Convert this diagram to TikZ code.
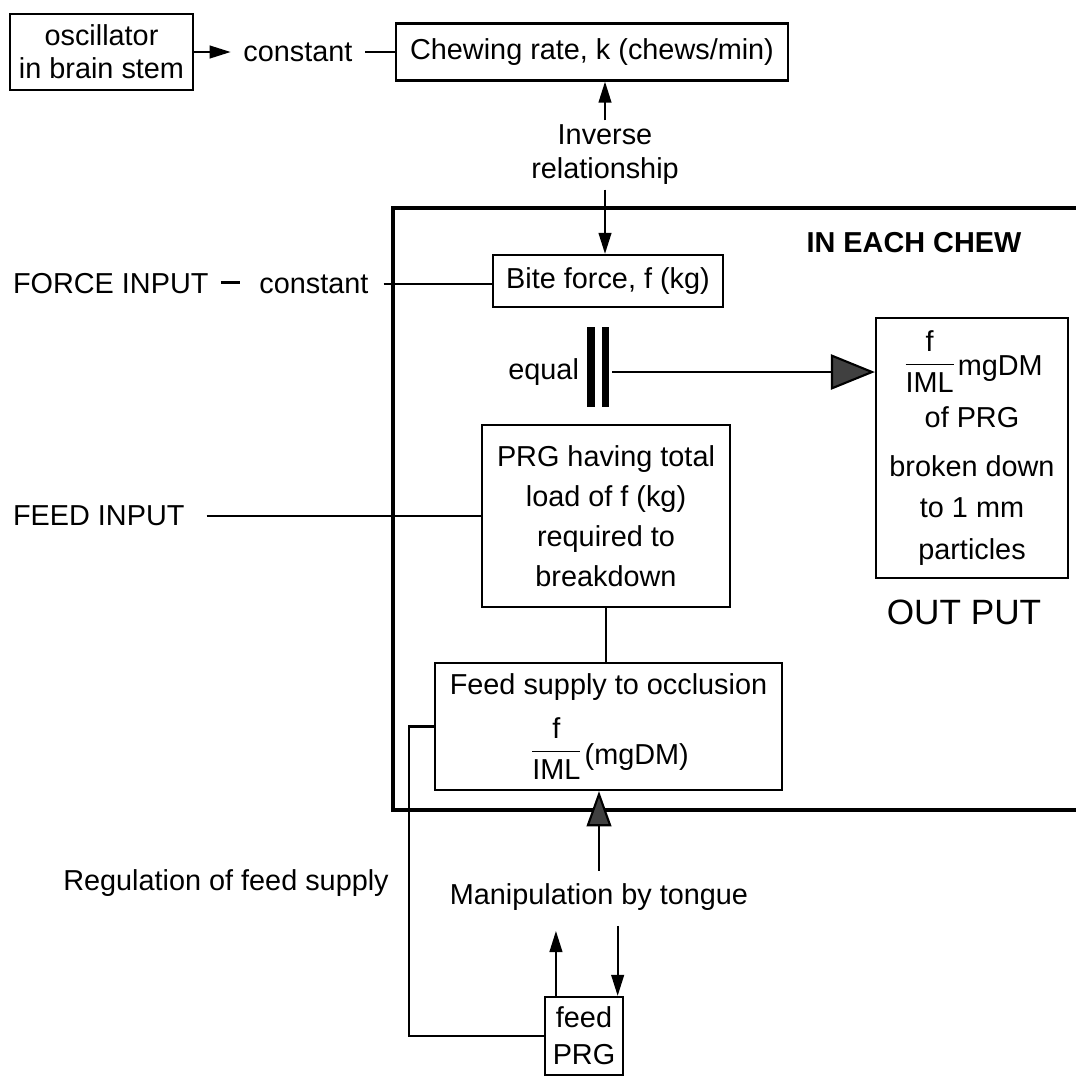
\documentclass[tikz,border=0pt]{standalone}
\usepackage{amsmath}
\usepackage{fontspec}
\setmainfont{Liberation Sans}
\usetikzlibrary{arrows.meta, calc, positioning}

\begin{document}
\begin{tikzpicture}[x=0.01cm, y=-0.01cm, line width=.6pt,
		font=\fontsize{8.2}{11}\selectfont,
		boxed/.style={draw, align=center, inner sep=0pt},
		arr/.style={-{Triangle[length=6pt, width=3.6pt]}},
		bigarr/.style={-{Triangle[length=12.5pt, width=10pt, fill=black!75]}},
		midarr/.style={-{Triangle[length=10pt, width=7pt, fill=black!75]}}]
		\useasboundingbox (0,0) rectangle (1076,1081);
		% top row
		\node[boxed, minimum width=1.83cm, minimum height=.76cm, font=\fontsize{8.2}{9.4}\selectfont] (osc) at (101.5,52) {oscillator\\in brain stem};
		\node (const1) at (298,52) {constant};
		\node[boxed, minimum width=3.92cm, minimum height=.57cm] (chew) at (592,52) {Chewing rate, k (chews/min)};
		\draw[arr] (osc) -- (const1);
		\draw (const1) -- (chew);
		\node[inner sep=1pt, align=center, font=\fontsize{8.2}{9.7}\selectfont] (inv) at (605,155) {Inverse\\relationship};
		\draw[arr] (inv.north) -- (inv.north |- chew.south);
		% the chew frame
		\draw[line width=1.3pt] (1100,208) -- (393,208) -- (393,810) -- (1100,810);
		\node[font=\fontsize{8.2}{11}\selectfont\bfseries] (each) at (914,243) {IN EACH CHEW};
		\node[boxed, minimum width=2.3cm, minimum height=.52cm] (bite) at (608,281) {Bite force, f (kg)};
		\draw[arr] (inv.south) -- (inv.south |- bite.north);
		\node[anchor=west, inner xsep=0pt] (force) at (12,284) {FORCE INPUT\hspace{3.5pt}\rule[2.7pt]{5.5pt}{0.9pt}\hspace{5.5pt}constant};
		\draw[shorten <=4pt] (force.east) -- (force.east -| bite.west);
		% equal
		\node[anchor=east, inner xsep=0pt] (equal) at (580,372) {equal};
		\fill (587,327) rectangle (595,407);
		\fill (602,327) rectangle (609,407);
		\coordinate (eqr) at (612,372);
		\node[boxed, minimum width=1.92cm, minimum height=2.6cm, font=\fontsize{8.2}{11.8}\selectfont] (out) at (972,448) {$\displaystyle\frac{\text{f}}{\text{IML}}$\raisebox{-1.2pt}{mgDM}\\[3pt]of PRG\\[2pt]broken down\\to 1 mm\\particles};
		\draw[bigarr] (eqr) -- (eqr -| out.west);
		\node[font=\fontsize{10}{12}\selectfont] (outp) at (964,612) {OUT PUT};
		% feed
		\node[boxed, minimum width=2.48cm, minimum height=1.82cm, font=\fontsize{8.2}{11.4}\selectfont] (prg) at (606,516) {PRG having total\\load of f (kg)\\required to\\breakdown};
		\node[anchor=west, inner xsep=0pt] (feedin) at (12,516) {FEED INPUT};
		\draw[shorten <=6pt] (feedin.east) -- (prg.west);
		\node[boxed, minimum width=3.47cm, minimum height=1.27cm, font=\fontsize{8.2}{13}\selectfont] (feed) at (608.5,726.5) {Feed supply to occlusion\\[4pt]$\displaystyle\frac{\text{f}}{\text{IML}}$\raisebox{-1.8pt}{(mgDM)}};
		\draw (prg.south) -- (prg.south |- feed.north);
		% below the frame
		\node[boxed, minimum width=.78cm, minimum height=.78cm, font=\fontsize{8.2}{10.5}\selectfont] (fprg) at (584,1036) {feed\\PRG};
		\draw (feed.west) -- ++(-25,0) |- (fprg.west);
		\node (reg) at (226,883) {Regulation of feed supply};
		\node (manip) at (599,897) {Manipulation by tongue};
		\draw[midarr] (manip.north) -- (manip.north |- feed.south);
		\draw[arr] ($(fprg.north west)!.15!(fprg.north east)$) -- ++(0,-65);
		\draw[arr] ($(fprg.north west)!.92!(fprg.north east)+(0,-70)$) -- ($(fprg.north west)!.92!(fprg.north east)$);
	\end{tikzpicture}
\end{document}
